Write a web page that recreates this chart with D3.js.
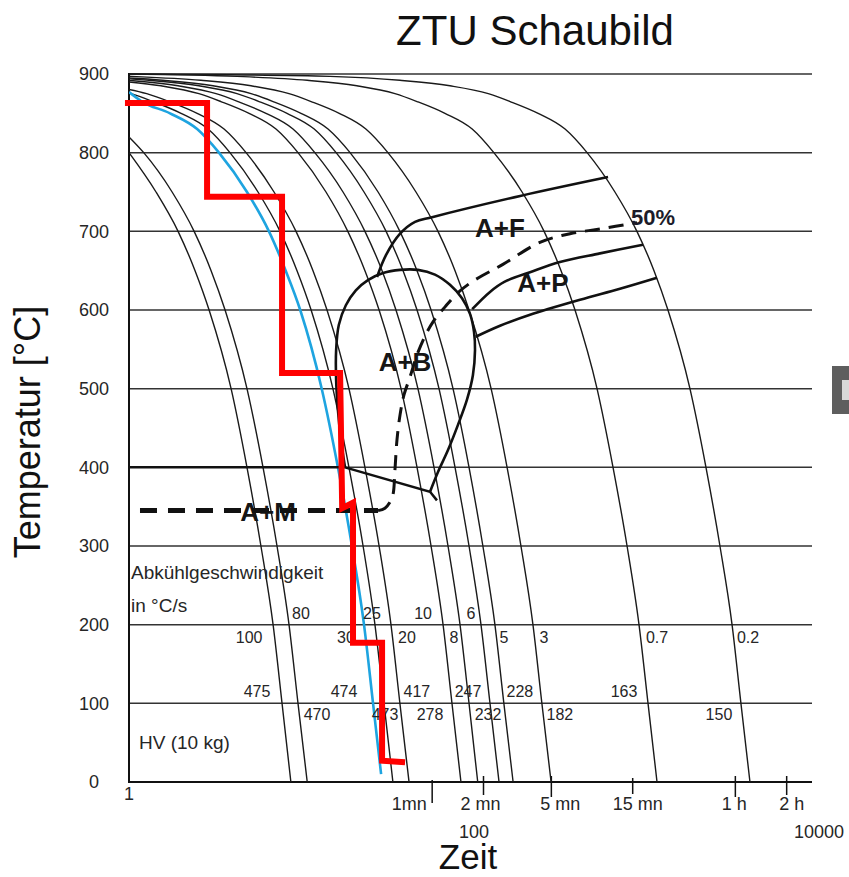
<!DOCTYPE html>
<html><head><meta charset="utf-8">
<script src="https://cdn.jsdelivr.net/npm/d3@7"></script>
<style>body{margin:0;background:#fff;} svg{display:block;font-family:"Liberation Sans",Arial,sans-serif;}</style>
</head><body><svg id="c" width="849" height="877"></svg>
<script>
// ---------- DATA ----------
const yTicks = [0,100,200,300,400,500,600,700,800,900];
const xNumTicks = [1,100,10000];
const timeTicks = [60,120,300,900,3600,7200];
const timeLabels = ["1mn","2 mn","5 mn","15 mn","1 h","2 h"];

// cooling curves [time s, temperature °C]
const curve100 = [[1,800],[1.44,750],[1.94,700],[2.44,650],[2.95,600],[3.97,500],[4.92,400],[5.94,300],[7.0,200],[7.9,100],[8.9,0]];
const curve80  = [[1,820],[1.22,800],[1.79,750],[2.41,700],[3.03,650],[3.66,600],[4.92,500],[6.11,400],[7.38,300],[8.68,200],[9.8,100],[11.1,0]];
const curve30  = [[1,877],[1.19,865],[1.74,850],[2.51,830],[3.37,800],[4.92,750],[6.62,700],[8.3,650],[10.1,600],[13.5,500],[16.8,400],[20.3,300],[23.9,200],[27.0,100],[30.1,10]];
const curve25  = [[0.62,885],[1.03,875],[1.38,865],[2.02,850],[2.91,830],[3.91,800],[5.71,750],[7.69,700],[9.67,650],[11.7,600],[15.7,500],[19.5,400],[23.6,300],[27.7,200],[31.3,100],[35.3,0]];
const curve20  = [[0.39,892],[0.76,885],[1.27,875],[1.72,865],[2.51,850],[3.61,830],[4.86,800],[7.09,750],[9.54,700],[12.0,650],[14.5,600],[19.5,500],[24.2,400],[29.3,300],[34.4,200],[38.8,100],[43.9,0]];
const curve10  = [[0.3,897],[0.78,892],[1.54,885],[2.57,875],[3.46,865],[5.06,850],[7.28,830],[9.8,800],[14.3,750],[19.2,700],[24.2,650],[29.3,600],[39.4,500],[48.9,400],[59.1,300],[69.5,200],[78.4,100],[88.5,0]];
const curve8   = [[0.38,897],[0.99,892],[1.94,885],[3.24,875],[4.36,865],[6.36,850],[9.16,830],[12.3,800],[18.0,750],[24.2,700],[30.5,650],[36.8,600],[49.5,500],[61.5,400],[74.3,300],[87.4,200],[98.7,100],[111,0]];
const curve6   = [[0.13,900],[0.51,897],[1.31,892],[2.57,885],[4.30,875],[5.79,865],[8.45,850],[12.2,830],[16.4,800],[23.9,750],[32.2,700],[40.5,650],[48.9,600],[65.8,500],[81.7,400],[98.7,300],[116,200],[131,100],[148,0]];
const curve5   = [[0.16,900],[0.61,897],[1.58,892],[3.11,885],[5.2,875],[7.0,865],[10.2,850],[14.7,830],[19.8,800],[28.9,750],[38.8,700],[48.9,650],[59.1,600],[79.5,500],[98.7,400],[119,300],[140,200],[158,100],[179,0]];
const curve3   = [[0.27,900],[1.03,897],[2.64,892],[5.2,885],[8.68,875],[11.7,865],[17.1,850],[24.5,830],[33.0,800],[48.2,750],[64.9,700],[81.7,650],[98.7,600],[133,500],[165,400],[199,300],[234,200],[264,100],[299,0]];
const curve07  = [[1,900],[4.30,897],[11.1,892],[21.7,885],[36.3,875],[48.9,865],[71.3,850],[103,830],[138,800],[202,750],[272,700],[342,650],[413,600],[556,500],[690,400],[834,300],[980,200],[1107,100],[1250,0]];
const curve02  = [[1,900],[3.9,899],[15.1,897],[38.8,892],[76.3,885],[128,875],[172,865],[251,850],[361,830],[486,800],[708,750],[953,700],[1200,650],[1449,600],[1950,500],[2421,400],[2924,300],[3443,200],[3882,100],[4385,0]];

const rateLabels = ["100","80","30","25","20","10","8","6","5","3","0.7","0.2"];
const hardness   = [475,470,474,473,417,278,247,232,228,182,163,150];

// transformation lines [time s, temperature °C]
const msLine      = [[1,400],[18.5,400]];
const bfLine      = [[18.5,400],[58.3,369],[64.0,358]];
const bainiteLoop = [[18.5,400],[17.5,435],[16.8,473],[16.4,511],[16.4,549],[17.0,581],[18.7,606],[21.4,625],[25.2,638],[30.9,647],[38.9,651],[49.5,651],[62.3,645],[76.3,632],[89.8,615],[100,595],[105.6,572],[107,549],[104,517],[96.0,486],[85.0,454],[74.3,422],[64.9,394],[58.3,369]];
const ferriteStart = [[28.5,642],[32.2,670],[38.9,697],[47.6,712],[59.9,718],[197,745],[645,769]];
const pearliteStart = [[103,601],[131,623],[160,636],[225,648],[337,661],[579,672],[1034,683]];
const pearliteEnd   = [[108,566],[150,580],[225,594],[442,613],[758,627],[1250,641]];
const amLine        = [[1.16,345],[28.9,345]];
const line50        = [[28.9,345],[31.7,348],[34.0,356],[35.4,366],[36.3,397],[37.3,435],[38.9,467],[41.0,492],[44.5,515],[48.9,543],[54.5,567],[60.7,585],[71.4,604],[85.0,622],[103,636],[156,658],[257,686],[386,697],[579,703],[954,711]];

// red stepped path
const redPath = [[0.947,863],[2.87,863],[2.87,744],[7.90,744],[7.90,520],[17.3,520],[17.8,348],[20.6,355],[20.6,177],[30.5,177],[30.5,27],[41.6,25]];

// ---------- CHART ----------
const svg = d3.select("#c");
const x = d3.scaleLog().domain([1,10000]).range([129,811]);
const y = d3.scaleLinear().domain([0,900]).range([782,74]);
const txt = "#262626";

svg.append("defs").append("clipPath").attr("id","plot")
  .append("rect").attr("x",129).attr("y",60).attr("width",684).attr("height",723);

// title
svg.append("text").attr("x",535).attr("y",45).attr("text-anchor","middle")
  .attr("font-size",42).attr("fill","#111").text("ZTU Schaubild");

// gridlines
svg.append("g").selectAll("line").data(yTicks.filter(d=>d>0)).join("line")
  .attr("x1",x(1)).attr("x2",x(10000)+1).attr("y1",d=>y(d)).attr("y2",d=>y(d))
  .attr("stroke","#333").attr("stroke-width",1.5);

// y axis labels
const ya = svg.append("g").attr("transform",`translate(${x(1)},0)`)
  .call(d3.axisLeft(y).tickValues(yTicks).tickSize(0).tickPadding(20));
ya.select(".domain").remove();
ya.selectAll("text").attr("x",-35).attr("text-anchor","middle")
  .attr("font-size",18).attr("fill",txt).attr("font-family","Liberation Sans, Arial, sans-serif");

// axes lines
svg.append("line").attr("x1",x(1)).attr("x2",x(1)).attr("y1",y(900)-1).attr("y2",y(0)+1)
  .attr("stroke","#111").attr("stroke-width",2);
svg.append("line").attr("x1",x(1)).attr("x2",x(10000)+1).attr("y1",y(0)).attr("y2",y(0))
  .attr("stroke","#111").attr("stroke-width",2);

// time ticks
const tickTop = [780,776,776,778,776,776], tickBot=[803,795,797,794,797,795];
const timeDx = [-23,-3,9,5,-1,5];
svg.append("g").selectAll("line").data(timeTicks).join("line")
  .attr("x1",d=>x(d)).attr("x2",d=>x(d)).attr("y1",(d,i)=>tickTop[i]).attr("y2",(d,i)=>tickBot[i])
  .attr("stroke","#111").attr("stroke-width",1.5);
svg.append("g").selectAll("text").data(timeTicks).join("text")
  .attr("x",(d,i)=>x(d)+timeDx[i]).attr("y",810).attr("text-anchor","middle")
  .attr("font-size",18).attr("fill",txt).text((d,i)=>timeLabels[i]);
const numDx=[0,4,8], numY=[800,838,838];
svg.append("g").selectAll("text").data(xNumTicks).join("text")
  .attr("x",(d,i)=>x(d)+numDx[i]).attr("y",(d,i)=>numY[i]).attr("text-anchor","middle")
  .attr("font-size",18).attr("fill",txt).text(d=>d);

// axis titles
svg.append("text").attr("x",468).attr("y",869).attr("text-anchor","middle")
  .attr("font-size",35).attr("fill","#111").text("Zeit");
svg.append("text").attr("transform","translate(40,432) rotate(-90)").attr("text-anchor","middle")
  .attr("font-size",36).attr("fill","#111").text("Temperatur [°C]");

// cooling curves
const line = d3.line().x(d=>x(d[0])).y(d=>y(d[1])).curve(d3.curveMonotoneX);
const curves = [curve100,curve80,curve30,curve25,curve20,curve10,curve8,curve6,curve5,curve3,curve07,curve02];
const pg = svg.append("g").attr("clip-path","url(#plot)");
pg.selectAll("path.cc").data(curves.filter(c=>c!==curve30)).join("path").attr("class","cc")
  .attr("d",line).attr("fill","none").attr("stroke","#1a1a1a").attr("stroke-width",1.4);
pg.append("path").attr("d",line(curve30)).attr("fill","none").attr("stroke","#1ea4e0").attr("stroke-width",2.6);

// transformation lines
const sline = d3.line().x(d=>x(d[0])).y(d=>y(d[1])).curve(d3.curveCatmullRom.alpha(0.5));
const linL = d3.line().x(d=>x(d[0])).y(d=>y(d[1]));
pg.append("path").attr("d",linL(msLine)).attr("stroke","#111").attr("stroke-width",2.5).attr("fill","none");
pg.append("path").attr("d",linL(bfLine)).attr("stroke","#111").attr("stroke-width",2.5).attr("fill","none");
[bainiteLoop,ferriteStart,pearliteStart,pearliteEnd].forEach(p=>{
  pg.append("path").attr("d",sline(p)).attr("stroke","#111").attr("stroke-width",2.6).attr("fill","none");
});
pg.append("path").attr("d",sline(line50)).attr("stroke","#111").attr("stroke-width",3)
  .attr("stroke-dasharray","15,9").attr("fill","none");

// rate & hardness labels
const at = (c,T)=>x(c.find(p=>p[1]===T)[0]);
const rateDx=[-24,12,-18,-3,16,-20,-6,-10,9,11,18,16];
const rateUp=[0,1,0,1,0,1,0,1,0,0,0,0];
const hvDx=[-25,19,-29,1,17,-22,-1,-2,16,18,-24,-22];
const hvUp=[1,0,1,0,1,0,1,0,1,0,1,0];
svg.append("g").selectAll("text").data(rateLabels).join("text")
  .attr("x",(d,i)=>at(curves[i],200)+rateDx[i]).attr("y",(d,i)=>rateUp[i]?y(200)-6:y(200)+18)
  .attr("text-anchor","middle").attr("font-size",16).attr("fill",txt).text(d=>d);
svg.append("g").selectAll("text").data(hardness).join("text")
  .attr("x",(d,i)=>at(curves[i],100)+hvDx[i]).attr("y",(d,i)=>hvUp[i]?y(100)-6:y(100)+17)
  .attr("text-anchor","middle").attr("font-size",16).attr("fill",txt).text(d=>d);

svg.append("text").attr("x",131).attr("y",579).attr("font-size",19).attr("fill",txt).text("Abkühlgeschwindigkeit");
svg.append("text").attr("x",131).attr("y",612).attr("font-size",19).attr("fill",txt).text("in °C/s");
svg.append("text").attr("x",139).attr("y",749).attr("font-size",19).attr("fill",txt).text("HV (10 kg)");

// region labels
const regions = [["A+F",500,237],["A+P",543,292],["A+B",405,371],["A+M",268,521]];
svg.append("g").selectAll("text").data(regions).join("text")
  .attr("x",d=>d[1]).attr("y",d=>d[2]).attr("text-anchor","middle")
  .attr("font-size",26).attr("font-weight","bold").attr("fill","#161616").text(d=>d[0]);
svg.append("text").attr("x",631).attr("y",225).attr("font-size",22).attr("font-weight","bold").attr("fill","#1c1c2a").text("50%");

// A+M dashed line
svg.append("path").attr("d",linL(amLine)).attr("stroke","#111").attr("stroke-width",5)
  .attr("stroke-dasharray","17,11").attr("fill","none");

// red stepped path
svg.append("path").attr("d",linL(redPath)).attr("stroke","#ff0000").attr("stroke-width",6)
  .attr("fill","none").attr("stroke-linejoin","miter");

// cropped element at right edge
svg.append("rect").attr("x",832).attr("y",366).attr("width",17).attr("height",48).attr("fill","#5e5e5e");
svg.append("rect").attr("x",842).attr("y",380).attr("width",7).attr("height",20).attr("fill","#d8d8d8");
</script></body></html>
